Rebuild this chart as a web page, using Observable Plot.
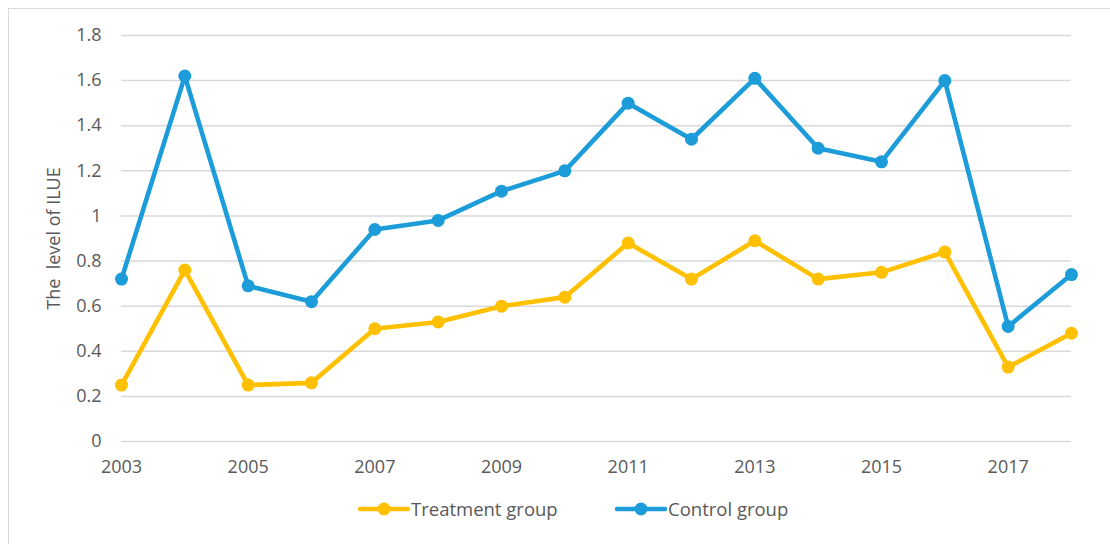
<!DOCTYPE html>
<html>
<head>
<meta charset="utf-8">
<script src="https://cdn.jsdelivr.net/npm/d3@7"></script>
<script src="https://cdn.jsdelivr.net/npm/@observablehq/plot@0.6"></script>
<style>
  html, body { margin: 0; padding: 0; background: #fff; }
  body { width: 1110px; height: 544px; overflow: hidden; position: relative; font-family: "Open Sans", sans-serif; }
  #frame { position: absolute; left: 8px; top: 8px; width: 1120px; height: 560px; border: 1.5px solid #d9d9d9; box-sizing: border-box; pointer-events: none; }
  #chart { position: absolute; left: 0; top: 0; }
  #legend { position: absolute; left: 0; top: 484px; width: 1110px; height: 50px; }
  .item { position: absolute; top: 12px; display: flex; align-items: center; color: #595959; font-size: 18.5px; }
  .item svg { margin-right: 1px; }
</style>
</head>
<body>
<div id="chart"></div>
<div id="legend"></div>
<div id="frame"></div>
<script>
const years = [2003, 2004, 2005, 2006, 2007, 2008, 2009, 2010, 2011, 2012, 2013, 2014, 2015, 2016, 2017, 2018];
const treatment = [0.25, 0.76, 0.25, 0.26, 0.50, 0.53, 0.60, 0.64, 0.88, 0.72, 0.89, 0.72, 0.75, 0.84, 0.33, 0.48];
const control = [0.72, 1.62, 0.69, 0.62, 0.94, 0.98, 1.11, 1.20, 1.50, 1.34, 1.61, 1.30, 1.24, 1.60, 0.51, 0.74];
const seriesNames = ["Treatment group", "Control group"];
const seriesColors = ["#FFC000", "#1C9DD9"];
const xTicks = [2003, 2005, 2007, 2009, 2011, 2013, 2015, 2017];
const yTicks = [0, 0.2, 0.4, 0.6, 0.8, 1, 1.2, 1.4, 1.6, 1.8];
const yTitle = "The  level of ILUE";

const rows = [];
years.forEach((y, i) => {
  rows.push({year: y, value: treatment[i], series: seriesNames[0]});
  rows.push({year: y, value: control[i], series: seriesNames[1]});
});

const chart = Plot.plot({
  width: 1110,
  height: 484,
  marginLeft: 121,
  marginRight: 39,
  marginTop: 35,
  marginBottom: 43,
  style: {fontFamily: "'Open Sans', sans-serif", fontSize: "18px", color: "#595959", background: "transparent"},
  x: {domain: [2003, 2018]},
  y: {domain: [0, 1.8]},
  color: {domain: seriesNames, range: seriesColors},
  marks: [
    Plot.gridY(yTicks, {stroke: "#d9d9d9", strokeOpacity: 1, strokeWidth: 1.5}),
    Plot.axisY(yTicks, {tickSize: 0, tickPadding: 20, tickFormat: d => String(d), label: yTitle, labelAnchor: "center", labelArrow: "none", labelOffset: 74, fill: "#595959"}),
    Plot.axisX(xTicks, {tickSize: 0, tickPadding: 19, tickFormat: d => String(d), label: null, fill: "#595959"}),
    Plot.line(rows, {x: "year", y: "value", z: "series", stroke: "series", strokeWidth: 4.6, strokeLinejoin: "round"}),
    Plot.dot(rows, {x: "year", y: "value", fill: "series", r: 6.5, stroke: "none"})
  ]
});
document.getElementById("chart").appendChild(chart);

const legend = document.getElementById("legend");
const lefts = [358, 615];
seriesNames.forEach((name, i) => {
  const div = document.createElement("div");
  div.className = "item";
  div.style.left = lefts[i] + "px";
  div.innerHTML = `<svg width="52" height="16"><line x1="2" y1="8" x2="50" y2="8" stroke="${seriesColors[i]}" stroke-width="4.5" stroke-linecap="round"/><circle cx="26" cy="8" r="6.5" fill="${seriesColors[i]}"/></svg><span>${name}</span>`;
  legend.appendChild(div);
});
</script>
</body>
</html>
